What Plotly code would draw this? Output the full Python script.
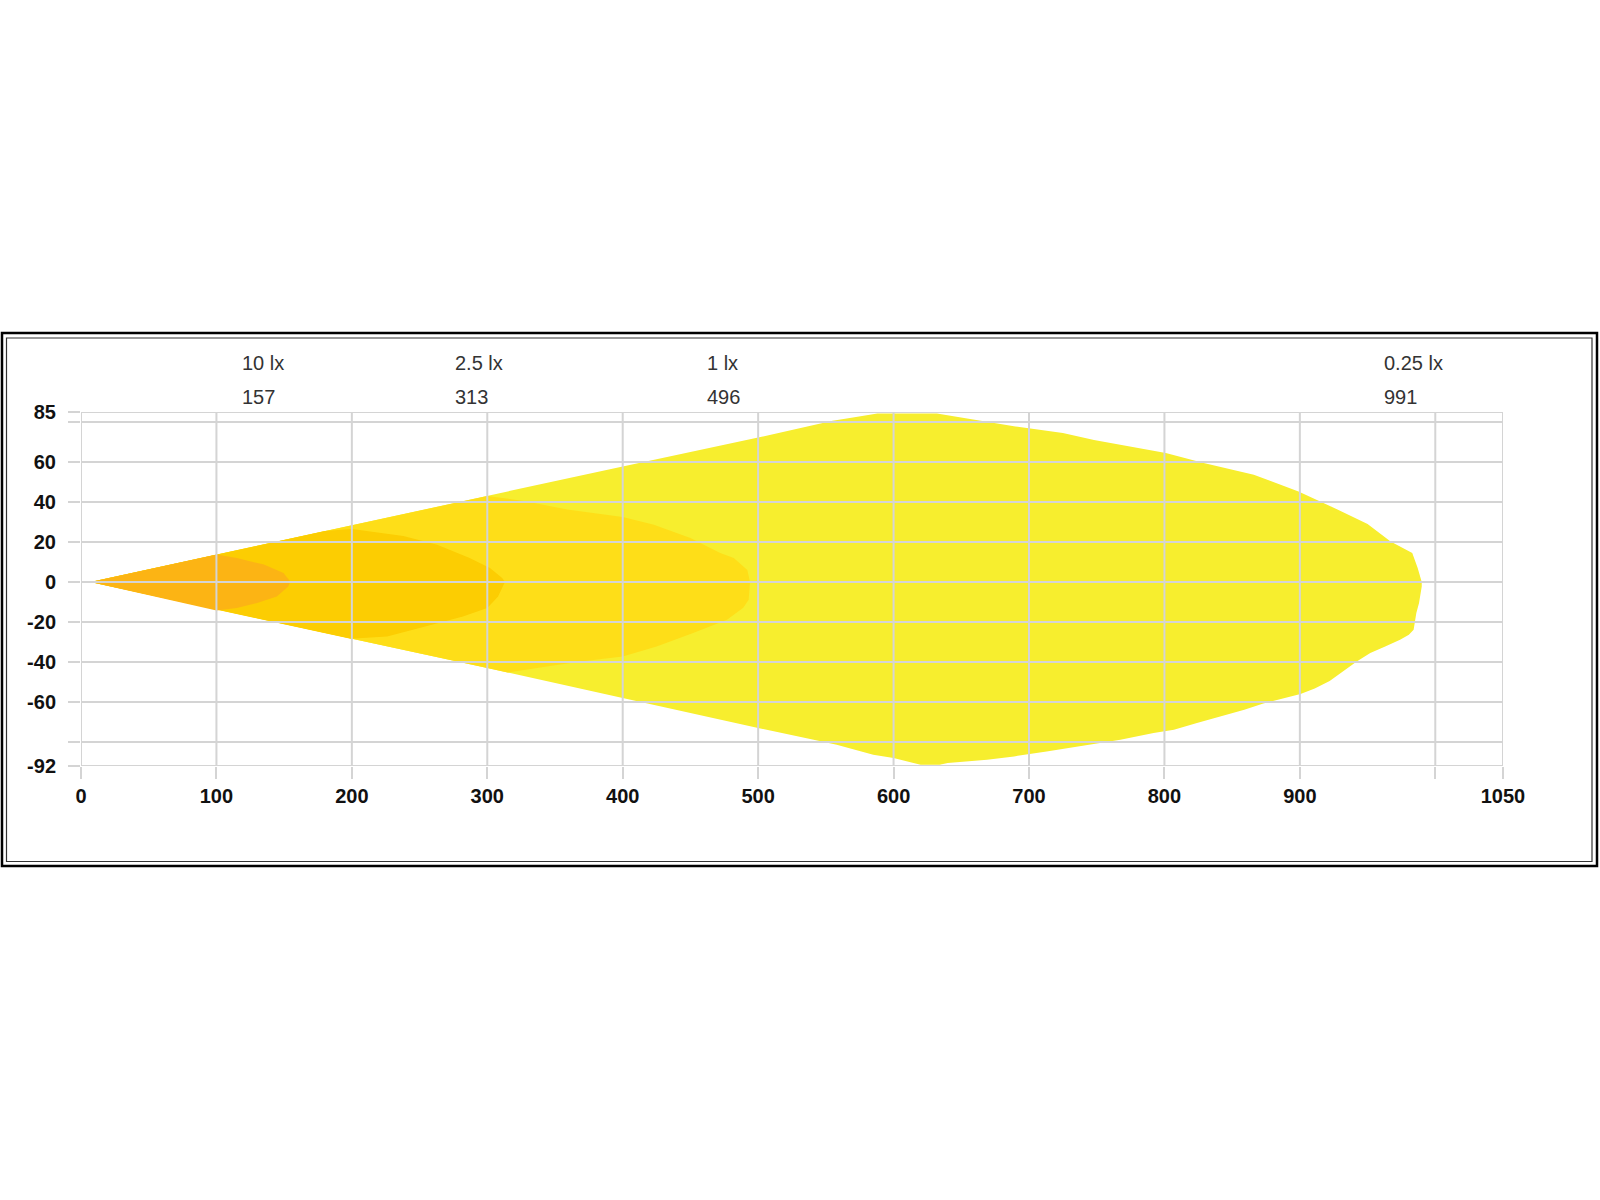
import plotly.graph_objects as go

# ---------------- data ----------------
# isolux contours (distance in m, lateral offset in m)
lx025_x = [7, 100, 200, 300, 400, 500, 555, 570, 588, 632, 660, 690, 725, 748, 801, 829, 866, 899, 923,
           950, 967, 983, 987, 990, 990, 988, 986, 984, 980.5, 974, 963, 952, 942, 932, 922, 911, 900.5,
           886, 873, 859, 841, 824, 807, 792, 767.5, 738, 713, 689, 669, 640, 634, 620, 600, 585, 558, 541,
           500, 400, 300, 200, 100, 7]
lx025_y = [0, 13.7, 28.4, 43, 57.8, 72.2, 80.6, 82.3, 84.2, 84.2, 81, 77.8, 74.5, 71, 64.5, 59.5, 53.6,
           45.3, 37.8, 29, 20.3, 14.5, 7, 0, -2.2, -10.5, -15.5, -23.9, -26.4, -28.9, -32.2, -35.5, -39.7,
           -44.5, -49.5, -53.2, -56, -58.5, -60.8, -63.9, -67.2, -70.5, -73.9, -75.5, -78.9, -82.2, -84.7,
           -87.2, -88.9, -90.5, -91.4, -91.4, -88, -86.4, -81.4, -78.9, -73, -58, -43, -28.4, -13.7, 0]

lx1_x = [7, 100, 200, 300, 329, 359, 400, 423, 450, 472, 482, 492, 494, 493, 489, 477, 452, 425, 400,
         369, 344, 315, 300, 200, 100, 7]
lx1_y = [0, 13.7, 28.4, 43, 40.3, 36.2, 32.5, 28.6, 22, 14.5, 12, 6, 0, -8.9, -12.9, -18.9, -25.5,
         -32.2, -37.2, -39.7, -42.2, -45.3, -43, -28.4, -13.7, 0]

lx25_x = [7, 100, 180, 200, 238, 263, 287, 302, 311, 313, 312, 308, 300, 282, 250, 226, 199, 100, 7]
lx25_y = [0, 13.7, 25.5, 26.5, 23, 18.6, 12, 7, 2, 0, -1.4, -7.2, -13, -17.2, -23, -27.2, -28.4, -13.7, 0]

lx10_x = [7, 100, 115, 135, 149.5, 154.5, 153, 144.6, 130, 115, 100, 7]
lx10_y = [0, 13.7, 12, 8.7, 4.5, 0.3, -2.2, -7.2, -10.5, -13, -14.2, 0]

contour_names = ["0.25 lx", "1 lx", "2.5 lx", "10 lx"]
contour_colors = ["#f7ee2e", "#fede18", "#fccd02", "#fcb414"]

range_labels = ["10 lx", "2.5 lx", "1 lx", "0.25 lx"]
range_values = [157, 313, 496, 991]

x_tickvals = [0, 100, 200, 300, 400, 500, 600, 700, 800, 900, 1000, 1050]
x_ticktext = ["0", "100", "200", "300", "400", "500", "600", "700", "800", "900", "", "1050"]
y_tickvals = [85, 80, 60, 40, 20, 0, -20, -40, -60, -80, -92]
y_ticktext = ["85", "", "60", "40", "20", "0", "-20", "-40", "-60", "", "-92"]

# ---------------- layout geometry (pixels) ----------------
W, H = 1600, 1200
PL, PR, PT, PB = 81, 1503, 412, 766   # plot area
GRID = "#d4d4d4"
FONT = "Liberation Sans, Arial, sans-serif"


def px(x):
    return (x - PL) / (PR - PL)


def py(y):
    return (PB - y) / (PB - PT)


fig = go.Figure()
contours = [(lx025_x, lx025_y), (lx1_x, lx1_y), (lx25_x, lx25_y), (lx10_x, lx10_y)]
for (xs, ys), name, col in zip(contours, contour_names, contour_colors):
    fig.add_trace(go.Scatter(x=xs, y=ys, mode="lines", fill="toself", fillcolor=col,
                             line=dict(width=0, color=col), name=name, showlegend=False,
                             hoverinfo="skip"))

shapes = []
# gridlines drawn above the filled contours
for v in x_tickvals:
    shapes.append(dict(type="line", xref="x", yref="paper", x0=v, x1=v, y0=0, y1=1,
                       line=dict(color=GRID, width=2), layer="above"))
for v in y_tickvals:
    shapes.append(dict(type="line", xref="paper", yref="y", x0=0, x1=1, y0=v, y1=v,
                       line=dict(color=GRID, width=2), layer="above"))
# double frame
shapes.append(dict(type="rect", xref="paper", yref="paper", x0=px(2), x1=px(1597), y0=py(333), y1=py(866),
                   line=dict(color="#000000", width=2.5), layer="above"))
shapes.append(dict(type="rect", xref="paper", yref="paper", x0=px(6.5), x1=px(1592), y0=py(338), y1=py(861.5),
                   line=dict(color="#333333", width=1.2), layer="above"))

label_x_px = [240, 453, 705, 1382]
annotations = []
for lab, val, xp in zip(range_labels, range_values, label_x_px):
    annotations.append(dict(text=lab, xref="paper", yref="paper", x=px(xp), y=py(363),
                            xanchor="left", yanchor="middle", showarrow=False,
                            font=dict(family=FONT, size=20, color="#333333")))
    annotations.append(dict(text=str(val), xref="paper", yref="paper", x=px(xp), y=py(397),
                            xanchor="left", yanchor="middle", showarrow=False,
                            font=dict(family=FONT, size=20, color="#333333")))

fig.update_layout(
    width=W, height=H,
    margin=dict(l=PL, r=W - PR, t=PT, b=H - PB, pad=0, autoexpand=False),
    paper_bgcolor="white", plot_bgcolor="white",
    shapes=shapes, annotations=annotations, showlegend=False,
    font=dict(family=FONT, size=20, color="#111111"),
)
fig.update_xaxes(range=[0, 1050], showgrid=False, zeroline=False, showline=False,
                 tickmode="array", tickvals=x_tickvals, ticktext=x_ticktext,
                 ticks="outside", ticklen=12, tickwidth=2, tickcolor=GRID,
                 tickfont=dict(family=FONT, size=20, color="#111111", weight="bold"), automargin=False)
fig.update_yaxes(range=[-92, 85], showgrid=False, zeroline=False, showline=False,
                 tickmode="array", tickvals=y_tickvals, ticktext=y_ticktext,
                 ticks="outside", ticklen=12, tickwidth=2, tickcolor=GRID,
                 tickfont=dict(family=FONT, size=20, color="#111111", weight="bold"), automargin=False,
                 ticklabelstandoff=8)

fig.write_html("out.html", config={"displayModeBar": False},
               post_script="document.body.style.margin='0px';")
